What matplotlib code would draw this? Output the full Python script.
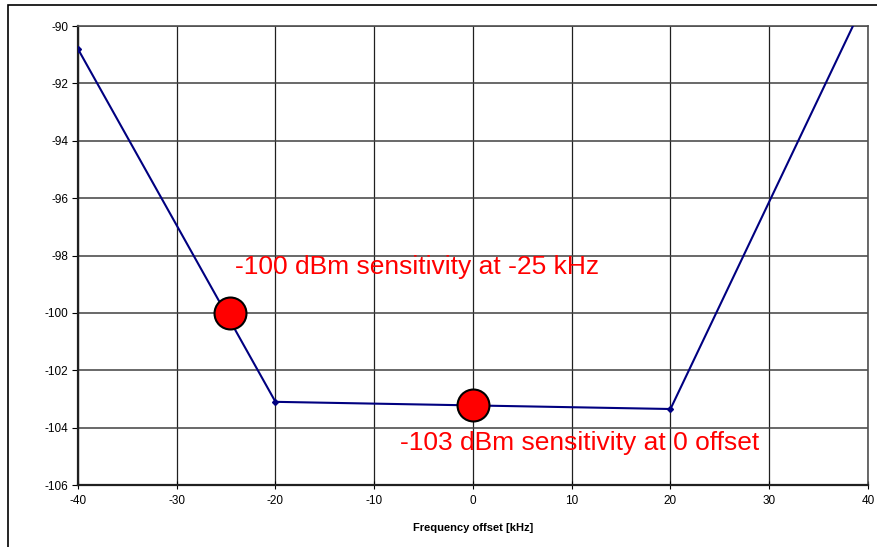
import matplotlib
matplotlib.use('Agg')
import matplotlib.pyplot as plt
from matplotlib.patches import Rectangle

plt.rcParams['font.family'] = ['Liberation Sans', 'DejaVu Sans']
plt.rcParams['axes.unicode_minus'] = False

# Measured sensitivity curve
freq_offset = [-40, -20, 20, 40]
sensitivity = [-90.8, -103.1, -103.35, -88.9]

# Highlighted points
marker_x = [-24.6, 0]
marker_y = [-100, -103.2]
labels = ['-100 dBm sensitivity at -25 kHz', '-103 dBm sensitivity at 0 offset']
label_x = [-24.1, -7.4]
label_y = [-98.4, -104.55]

fig = plt.figure(figsize=(8.77, 5.47), dpi=100)
ax = fig.add_axes([0.0889, 0.1133, 0.9008, 0.8391])

# outer frame of the chart (cut at right/bottom like the original)
fig.patches.append(Rectangle((8 / 877, -0.05), 1.2, 1 - 5 / 547 + 0.05,
                             transform=fig.transFigure, fill=False,
                             edgecolor='black', linewidth=1.2))

ax.set_xlim(-40, 40)
ax.set_ylim(-106, -90)
ax.set_xticks(range(-40, 41, 10))
ax.set_yticks(range(-106, -89, 2))

ax.xaxis.grid(True, color='#202020', linewidth=0.9)
ax.yaxis.grid(True, color='#404040', linewidth=1.1)
ax.set_axisbelow(True)

ax.plot(freq_offset, sensitivity, color='#000080', linewidth=1.5,
        marker='D', markersize=3, zorder=3)
ax.plot(marker_x, marker_y, linestyle='none', marker='o', markersize=23,
        markerfacecolor='red', markeredgecolor='black', markeredgewidth=1.5,
        zorder=4)

for t, x, y in zip(labels, label_x, label_y):
    ax.text(x, y, t, color='red', fontsize=19, va='center', ha='left', zorder=5)

ax.set_xlabel('Frequency offset [kHz]', fontsize=8, fontweight='bold', labelpad=12)
ax.tick_params(axis='x', direction='inout', length=6, labelsize=8.5, pad=4)
ax.tick_params(axis='y', direction='out', length=4, labelsize=8.5, pad=3)

for side in ['left', 'bottom']:
    ax.spines[side].set_linewidth(1.6)
    ax.spines[side].set_color('#202020')
for side in ['top', 'right']:
    ax.spines[side].set_linewidth(1.2)
    ax.spines[side].set_color('#505050')

fig.savefig('out.png', dpi=100)
